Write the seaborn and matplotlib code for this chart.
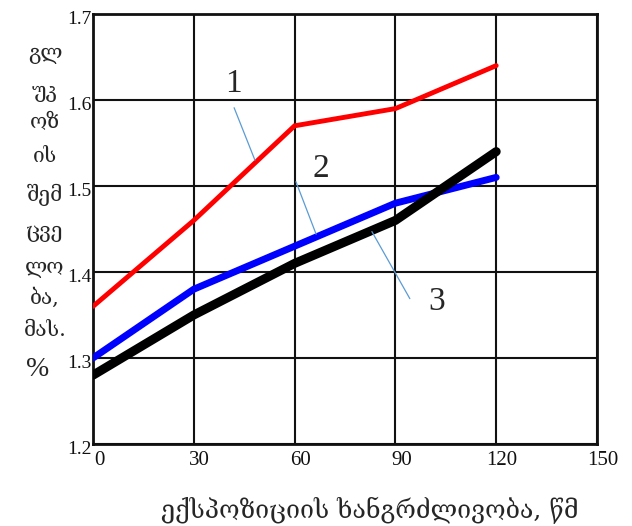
import matplotlib
matplotlib.use("Agg")
import matplotlib.pyplot as plt
import matplotlib.transforms as mtransforms
import pandas as pd
import seaborn as sns

# Exposure time, s
exposure = [0, 30, 60, 90, 120]
# Glucose content, mass %, for the three curves
curve_1 = [1.36, 1.46, 1.57, 1.59, 1.64]
curve_2 = [1.30, 1.38, 1.43, 1.48, 1.51]
curve_3 = [1.28, 1.35, 1.41, 1.46, 1.54]

x_ticks = [0, 30, 60, 90, 120, 150]
y_ticks = [1.2, 1.3, 1.4, 1.5, 1.6, 1.7]
y_label_lines = ["გლ", "უკ", "ოზ", "ის", "შემ", "ცვე", "ლო", "ბა,", "მას.", "%"]
x_label = "ექსპოზიციის ხანგრძლივობა, წმ"

sns.set_style("white")
plt.rcParams["font.family"] = ["Liberation Serif", "DejaVu Serif", "DejaVu Sans"]
geo_font = ["DejaVu Serif", "DejaVu Sans"]

df = pd.DataFrame({
    "t": exposure * 3,
    "c": curve_1 + curve_2 + curve_3,
    "curve": ["1"] * 5 + ["2"] * 5 + ["3"] * 5,
})

W, H = 632, 526
fig = plt.figure(figsize=(W / 100, H / 100), dpi=100)
ax = fig.add_axes([93 / W, 1 - 444 / H, 504 / W, 430 / H])

styles = {"1": ("#ff0000", 3.5), "2": ("#0000ff", 5.0), "3": ("#000000", 6.5)}
for name, (color, lw) in styles.items():
    sub = df[df["curve"] == name]
    sns.lineplot(data=sub, x="t", y="c", ax=ax, color=color, linewidth=lw,
                 solid_capstyle="round", solid_joinstyle="miter",
                 zorder=3, legend=False)

ax.set_xlim(0, 150)
ax.set_ylim(1.2, 1.7)
ax.set_xticks(x_ticks)
ax.set_yticks(y_ticks)
ax.set_xticklabels([str(v) for v in x_ticks])
ax.set_yticklabels([f"{v:.1f}" for v in y_ticks])
ax.tick_params(axis="both", length=0, colors="#111111")
ax.tick_params(axis="x", pad=5, labelsize=15)
ax.tick_params(axis="y", pad=1, labelsize=14)

# tick labels sit a little right of / below their grid lines
shift_x = mtransforms.ScaledTranslation(6 / 100, 0, fig.dpi_scale_trans)
shift_y = mtransforms.ScaledTranslation(0, -4 / 100, fig.dpi_scale_trans)
for lbl in ax.get_xticklabels():
    lbl.set_transform(lbl.get_transform() + shift_x)
for lbl in ax.get_yticklabels():
    lbl.set_transform(lbl.get_transform() + shift_y)

ax.grid(True, color="#111111", linewidth=1.5)
ax.set_axisbelow(True)
for sp in ax.spines.values():
    sp.set_color("#111111")
    sp.set_linewidth(2)
ax.set_xlabel("")
ax.set_ylabel("")

# curve numbers with leader lines
leader = "#5b9bd5"
ax.plot([42.0, 48.2], [1.591, 1.530], color=leader, lw=0.9, zorder=4)
ax.plot([60.4, 66.4], [1.505, 1.444], color=leader, lw=0.9, zorder=4)
ax.plot([83.0, 94.3], [1.447, 1.369], color=leader, lw=0.9, zorder=4)
ax.text(41.7, 1.619, "1", fontsize=24, ha="center", va="center")
ax.text(67.9, 1.520, "2", fontsize=24, ha="center", va="center")
ax.text(102.4, 1.365, "3", fontsize=24, ha="center", va="center")

# stacked y-axis label
rows_y = [55, 93, 122, 157, 195, 232, 268, 298, 330, 370]
for s, py in zip(y_label_lines, rows_y):
    big = s == "%"
    fig.text((38 if big else 45) / W, 1 - py / H, s, fontsize=20 if big else 15,
             family=["Liberation Serif"] if big else geo_font,
             ha="center", va="center")

fig.text(370 / W, 1 - 510 / H, x_label, fontsize=18,
         family=geo_font, ha="center", va="center")

fig.savefig("out.png", dpi=100)
